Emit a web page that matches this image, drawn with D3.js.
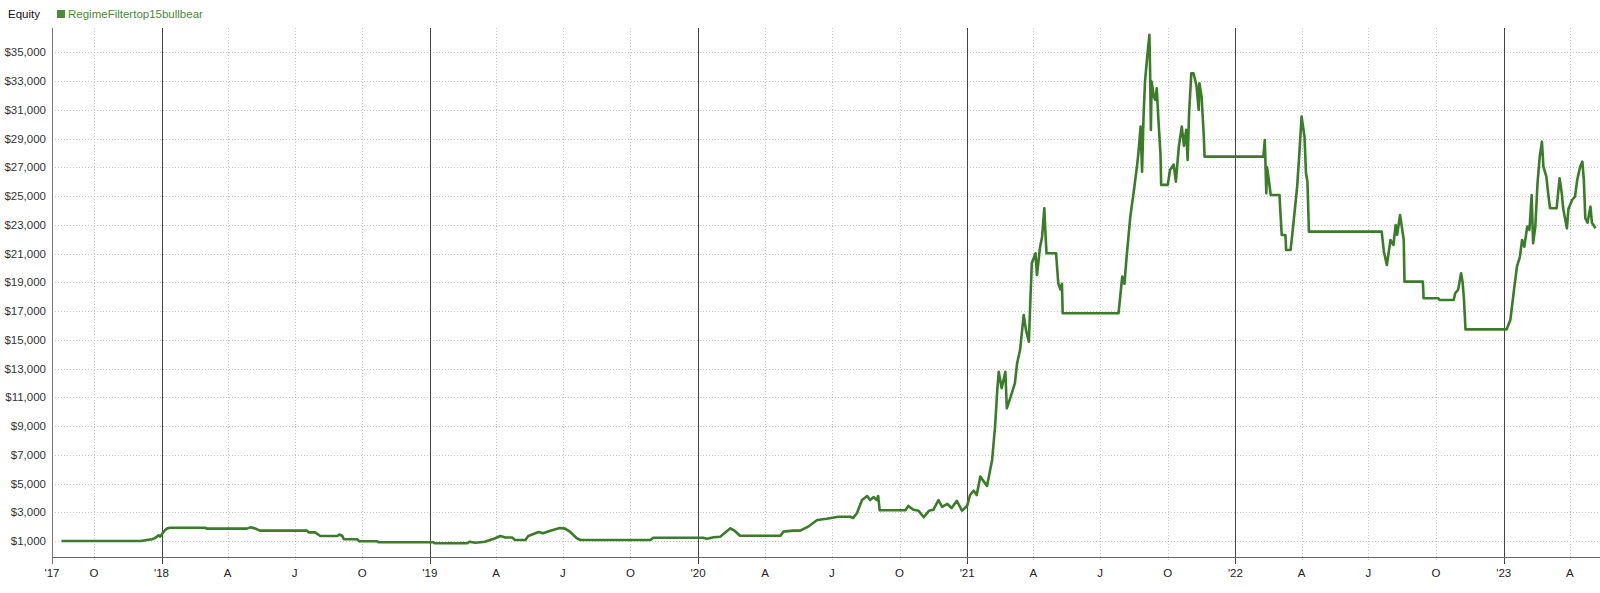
<!DOCTYPE html>
<html>
<head>
<meta charset="utf-8">
<script src="https://cdn.jsdelivr.net/npm/d3@7"></script>
<style>
  body { margin: 0; background: #fff; }
  svg { display: block; font-family: "Liberation Sans", Arial, sans-serif; }
</style>
</head>
<body>
<svg id="chart" width="1600" height="593"></svg>
<script>
// Series name and range of the time axis
var seriesName = "RegimeFiltertop15bullbear";
var axisStart = "2017-08-05";
var axisEnd = "2023-05-12";

// Equity curve
var dates = [
    "2017-08-18", "2017-12-03", "2017-12-10", "2017-12-19", "2017-12-23", "2017-12-28", "2017-12-30",
    "2018-01-02", "2018-01-06", "2018-01-09", "2018-01-13", "2018-03-02", "2018-03-03", "2018-04-27",
    "2018-05-02", "2018-05-08", "2018-05-15", "2018-07-18", "2018-07-20", "2018-07-29", "2018-08-05",
    "2018-08-28", "2018-08-31", "2018-09-04", "2018-09-06", "2018-09-24", "2018-09-27", "2018-10-21",
    "2018-10-24", "2019-01-06", "2019-01-08", "2019-02-21", "2019-02-24", "2019-03-04", "2019-03-17",
    "2019-03-31", "2019-04-07", "2019-04-14", "2019-04-23", "2019-04-27", "2019-05-11", "2019-05-15",
    "2019-05-22", "2019-05-29", "2019-06-04", "2019-06-14", "2019-06-22", "2019-06-27", "2019-07-04",
    "2019-07-11", "2019-07-20", "2019-07-25", "2019-10-28", "2019-11-01", "2020-01-08", "2020-01-13",
    "2020-01-22", "2020-01-31", "2020-02-14", "2020-02-20", "2020-02-27", "2020-04-22", "2020-04-26",
    "2020-05-09", "2020-05-19", "2020-05-31", "2020-06-11", "2020-06-24", "2020-07-10", "2020-07-26",
    "2020-07-30", "2020-08-04", "2020-08-11", "2020-08-18", "2020-08-22", "2020-08-27", "2020-08-31",
    "2020-09-02", "2020-09-04", "2020-10-09", "2020-10-13", "2020-10-20", "2020-10-27", "2020-11-03",
    "2020-11-10", "2020-11-16", "2020-11-23", "2020-11-28", "2020-12-05", "2020-12-11", "2020-12-18",
    "2020-12-25", "2021-01-01", "2021-01-05", "2021-01-10", "2021-01-14", "2021-01-19", "2021-01-23",
    "2021-01-28", "2021-01-31", "2021-02-04", "2021-02-08", "2021-02-11", "2021-02-13", "2021-02-17",
    "2021-02-22", "2021-02-24", "2021-03-01", "2021-03-07", "2021-03-10", "2021-03-14", "2021-03-19",
    "2021-03-22", "2021-03-26", "2021-03-28", "2021-03-30", "2021-04-04", "2021-04-06", "2021-04-10",
    "2021-04-13", "2021-04-16", "2021-04-17", "2021-04-19", "2021-05-02", "2021-05-05", "2021-05-08",
    "2021-05-10", "2021-05-11", "2021-07-26", "2021-07-31", "2021-08-03", "2021-08-06", "2021-08-11",
    "2021-08-16", "2021-08-20", "2021-08-22", "2021-08-25", "2021-08-27", "2021-08-29", "2021-08-31",
    "2021-09-03", "2021-09-06", "2021-09-07", "2021-09-08", "2021-09-09", "2021-09-12", "2021-09-14",
    "2021-09-16", "2021-09-18", "2021-09-21", "2021-09-22", "2021-10-01", "2021-10-04", "2021-10-09",
    "2021-10-12", "2021-10-16", "2021-10-20", "2021-10-23", "2021-10-26", "2021-10-28", "2021-10-30",
    "2021-11-02", "2021-11-05", "2021-11-09", "2021-11-12", "2021-11-13", "2021-11-16", "2021-11-19",
    "2021-11-20", "2022-02-08", "2022-02-10", "2022-02-12", "2022-02-13", "2022-02-15", "2022-02-18",
    "2022-03-02", "2022-03-03", "2022-03-05", "2022-03-10", "2022-03-11", "2022-03-17", "2022-03-20",
    "2022-03-26", "2022-03-29", "2022-04-01", "2022-04-05", "2022-04-07", "2022-04-09", "2022-04-11",
    "2022-07-19", "2022-07-22", "2022-07-26", "2022-07-31", "2022-08-04", "2022-08-07", "2022-08-09",
    "2022-08-13", "2022-08-16", "2022-08-18", "2022-08-19", "2022-09-13", "2022-09-14", "2022-10-04",
    "2022-10-06", "2022-10-25", "2022-10-27", "2022-10-31", "2022-11-04", "2022-11-06", "2022-11-08",
    "2022-11-10", "2023-01-05", "2023-01-10", "2023-01-15", "2023-01-19", "2023-01-23", "2023-01-26",
    "2023-01-29", "2023-02-02", "2023-02-05", "2023-02-08", "2023-02-10", "2023-02-13", "2023-02-16",
    "2023-02-19", "2023-02-22", "2023-02-24", "2023-02-28", "2023-03-03", "2023-03-05", "2023-03-14",
    "2023-03-18", "2023-03-21", "2023-03-23", "2023-03-28", "2023-03-30", "2023-04-04", "2023-04-08",
    "2023-04-11", "2023-04-15", "2023-04-18", "2023-04-20", "2023-04-22", "2023-04-25", "2023-04-29",
    "2023-05-01", "2023-05-06"
];

var equity = [
    1000, 1000, 1050, 1120, 1200, 1400, 1300,
    1500, 1770, 1880, 1925, 1925, 1860, 1860,
    1950, 1880, 1720, 1720, 1600, 1600, 1350,
    1350, 1450, 1350, 1120, 1120, 980, 980,
    910, 910, 840, 840, 950, 880, 950,
    1190, 1350, 1240, 1240, 1070, 1070, 1350,
    1490, 1630, 1540, 1720, 1830, 1900, 1860,
    1630, 1190, 1070, 1070, 1230, 1230, 1160,
    1260, 1300, 1880, 1700, 1370, 1370, 1650,
    1720, 1720, 2040, 2460, 2550, 2690, 2690,
    2600, 2930, 3850, 4130, 3850, 4060, 3850,
    4130, 3140, 3140, 3440, 3170, 3100, 2650,
    3100, 3170, 3850, 3380, 3580, 3300, 3800,
    3110, 3440, 4200, 4500, 4200, 5480, 5200,
    4830, 5600, 6640, 8960, 11500, 12780, 11630,
    12780, 10240, 11000, 11980, 13370, 14290, 16730,
    15690, 14870, 17700, 20330, 21020, 19510, 21370,
    22180, 24160, 23000, 21020, 21020, 18940, 18500,
    18900, 16850, 16850, 19400, 18900, 20790, 23570,
    25430, 27050, 27980, 29840, 26700, 30530, 32970,
    34710, 36220, 33500, 29610, 32970, 31900, 31690,
    32500, 30530, 27980, 25780, 25780, 26820, 27200,
    26010, 28440, 29840, 28500, 29610, 27520, 30800,
    33550, 33550, 32700, 31000, 32860, 31900, 29140,
    27750, 27750, 28910, 25200, 27000, 26300, 25080,
    25080, 24040, 22300, 22300, 21250, 21250, 22640,
    25660, 27980, 30530, 29140, 26590, 26000, 22530,
    22530, 21130, 20210, 21950, 21600, 22990, 22300,
    23690, 22650, 21950, 19050, 19050, 17890, 17890,
    17770, 17770, 18240, 18480, 19630, 19050, 17770,
    15730, 15730, 16380, 18470, 20090, 20780, 21950,
    21480, 22880, 22650, 25080, 21720, 22880, 25900,
    27750, 28790, 27050, 26360, 24960, 24160, 24160,
    26240, 25200, 24100, 22760, 24100, 24730, 24960,
    26130, 27050, 27400, 26130, 23460, 23150, 24270,
    23150, 22760
];

// Axis ticks
var yTicks = [1000, 3000, 5000, 7000, 9000, 11000, 13000, 15000, 17000,
              19000, 21000, 23000, 25000, 27000, 29000, 31000, 33000, 35000];
var quarterMonths = [3, 6, 9];
var quarterLabels = ["A", "J", "O"];
var yDomain = [-113, 36700];

var parse = d3.timeParse("%Y-%m-%d");
var data = dates.map(function(d, i) {
    return {date: parse(d), value: equity[i]};
});

var margin = {top: 28, left: 52, right: 0, bottom: 36};
var width = 1600 - margin.left - margin.right;
var height = 593 - margin.top - margin.bottom;

var svg = d3.select("#chart");
var g = svg.append("g")
    .attr("transform", `translate(${margin.left}, ${margin.top})`);

var x = d3.scaleTime()
    .domain([parse(axisStart), parse(axisEnd)])
    .range([0, width]);

var y = d3.scaleLinear()
    .domain(yDomain)
    .range([height, 0]);

// Quarter and year positions
var months = d3.timeMonth.range(parse(axisStart), parse(axisEnd));
var quarters = months.filter(function(d) {
    return quarterMonths.indexOf(d.getMonth()) >= 0;
});
var years = months.filter(function(d) { return d.getMonth() === 0; });

// Horizontal dotted grid
g.selectAll(".hgrid")
    .data(yTicks)
    .join("line")
    .attr("class", "hgrid")
    .attr("x1", 0)
    .attr("x2", width)
    .attr("y1", function(d) { return Math.round(y(d)) + 0.5; })
    .attr("y2", function(d) { return Math.round(y(d)) + 0.5; })
    .attr("stroke", "#c4c4c4")
    .attr("stroke-dasharray", "1,2");

// Vertical dotted grid at quarters
g.selectAll(".vgrid")
    .data(quarters)
    .join("line")
    .attr("class", "vgrid")
    .attr("x1", function(d) { return Math.round(x(d)) + 0.5; })
    .attr("x2", function(d) { return Math.round(x(d)) + 0.5; })
    .attr("y1", 0)
    .attr("y2", height + 3)
    .attr("stroke", "#c4c4c4")
    .attr("stroke-dasharray", "1,2");

// Solid year lines
g.selectAll(".ygrid")
    .data(years)
    .join("line")
    .attr("class", "ygrid")
    .attr("x1", function(d) { return Math.round(x(d)) + 0.5; })
    .attr("x2", function(d) { return Math.round(x(d)) + 0.5; })
    .attr("y1", 0)
    .attr("y2", height + 7)
    .attr("stroke", "#444");

// Axis lines
g.append("line")
    .attr("x1", 0.5).attr("x2", 0.5)
    .attr("y1", 0).attr("y2", height + 7)
    .attr("stroke", "#777");

g.append("line")
    .attr("x1", 0).attr("x2", width)
    .attr("y1", height + 0.5).attr("y2", height + 0.5)
    .attr("stroke", "#666");

// Y labels
g.selectAll(".ylabel")
    .data(yTicks)
    .join("text")
    .attr("class", "ylabel")
    .attr("x", -6)
    .attr("y", function(d) { return y(d) + 4; })
    .attr("text-anchor", "end")
    .attr("font-size", "11.5px")
    .attr("fill", "#333")
    .text(function(d) { return "$" + d3.format(",")(d); });

// X labels
var fmtYear = d3.timeFormat("'%y");
var xLabels = [{date: parse(axisStart), text: "'17"}]
    .concat(years.map(function(d) { return {date: d, text: fmtYear(d)}; }))
    .concat(quarters.map(function(d) {
        return {date: d, text: quarterLabels[quarterMonths.indexOf(d.getMonth())]};
    }));

g.selectAll(".xlabel")
    .data(xLabels)
    .join("text")
    .attr("class", "xlabel")
    .attr("x", function(d) { return x(d.date); })
    .attr("y", height + 20)
    .attr("text-anchor", "middle")
    .attr("font-size", "11.5px")
    .attr("fill", "#222")
    .text(function(d) { return d.text; });

// Equity line
var line = d3.line()
    .x(function(d) { return x(d.date); })
    .y(function(d) { return y(d.value); });

g.append("path")
    .datum(data)
    .attr("fill", "none")
    .attr("stroke", "#3a7c2a")
    .attr("stroke-width", 2.6)
    .attr("stroke-linejoin", "round")
    .attr("d", line);

// Legend
svg.append("text")
    .attr("x", 8)
    .attr("y", 18)
    .attr("font-size", "11.5px")
    .attr("fill", "#111")
    .text("Equity");

svg.append("rect")
    .attr("x", 57)
    .attr("y", 10)
    .attr("width", 8)
    .attr("height", 8)
    .attr("fill", "#4a8a3a");

svg.append("text")
    .attr("x", 68)
    .attr("y", 18)
    .attr("font-size", "11.5px")
    .attr("fill", "#4a8a3a")
    .text(seriesName);
</script>
</body>
</html>
